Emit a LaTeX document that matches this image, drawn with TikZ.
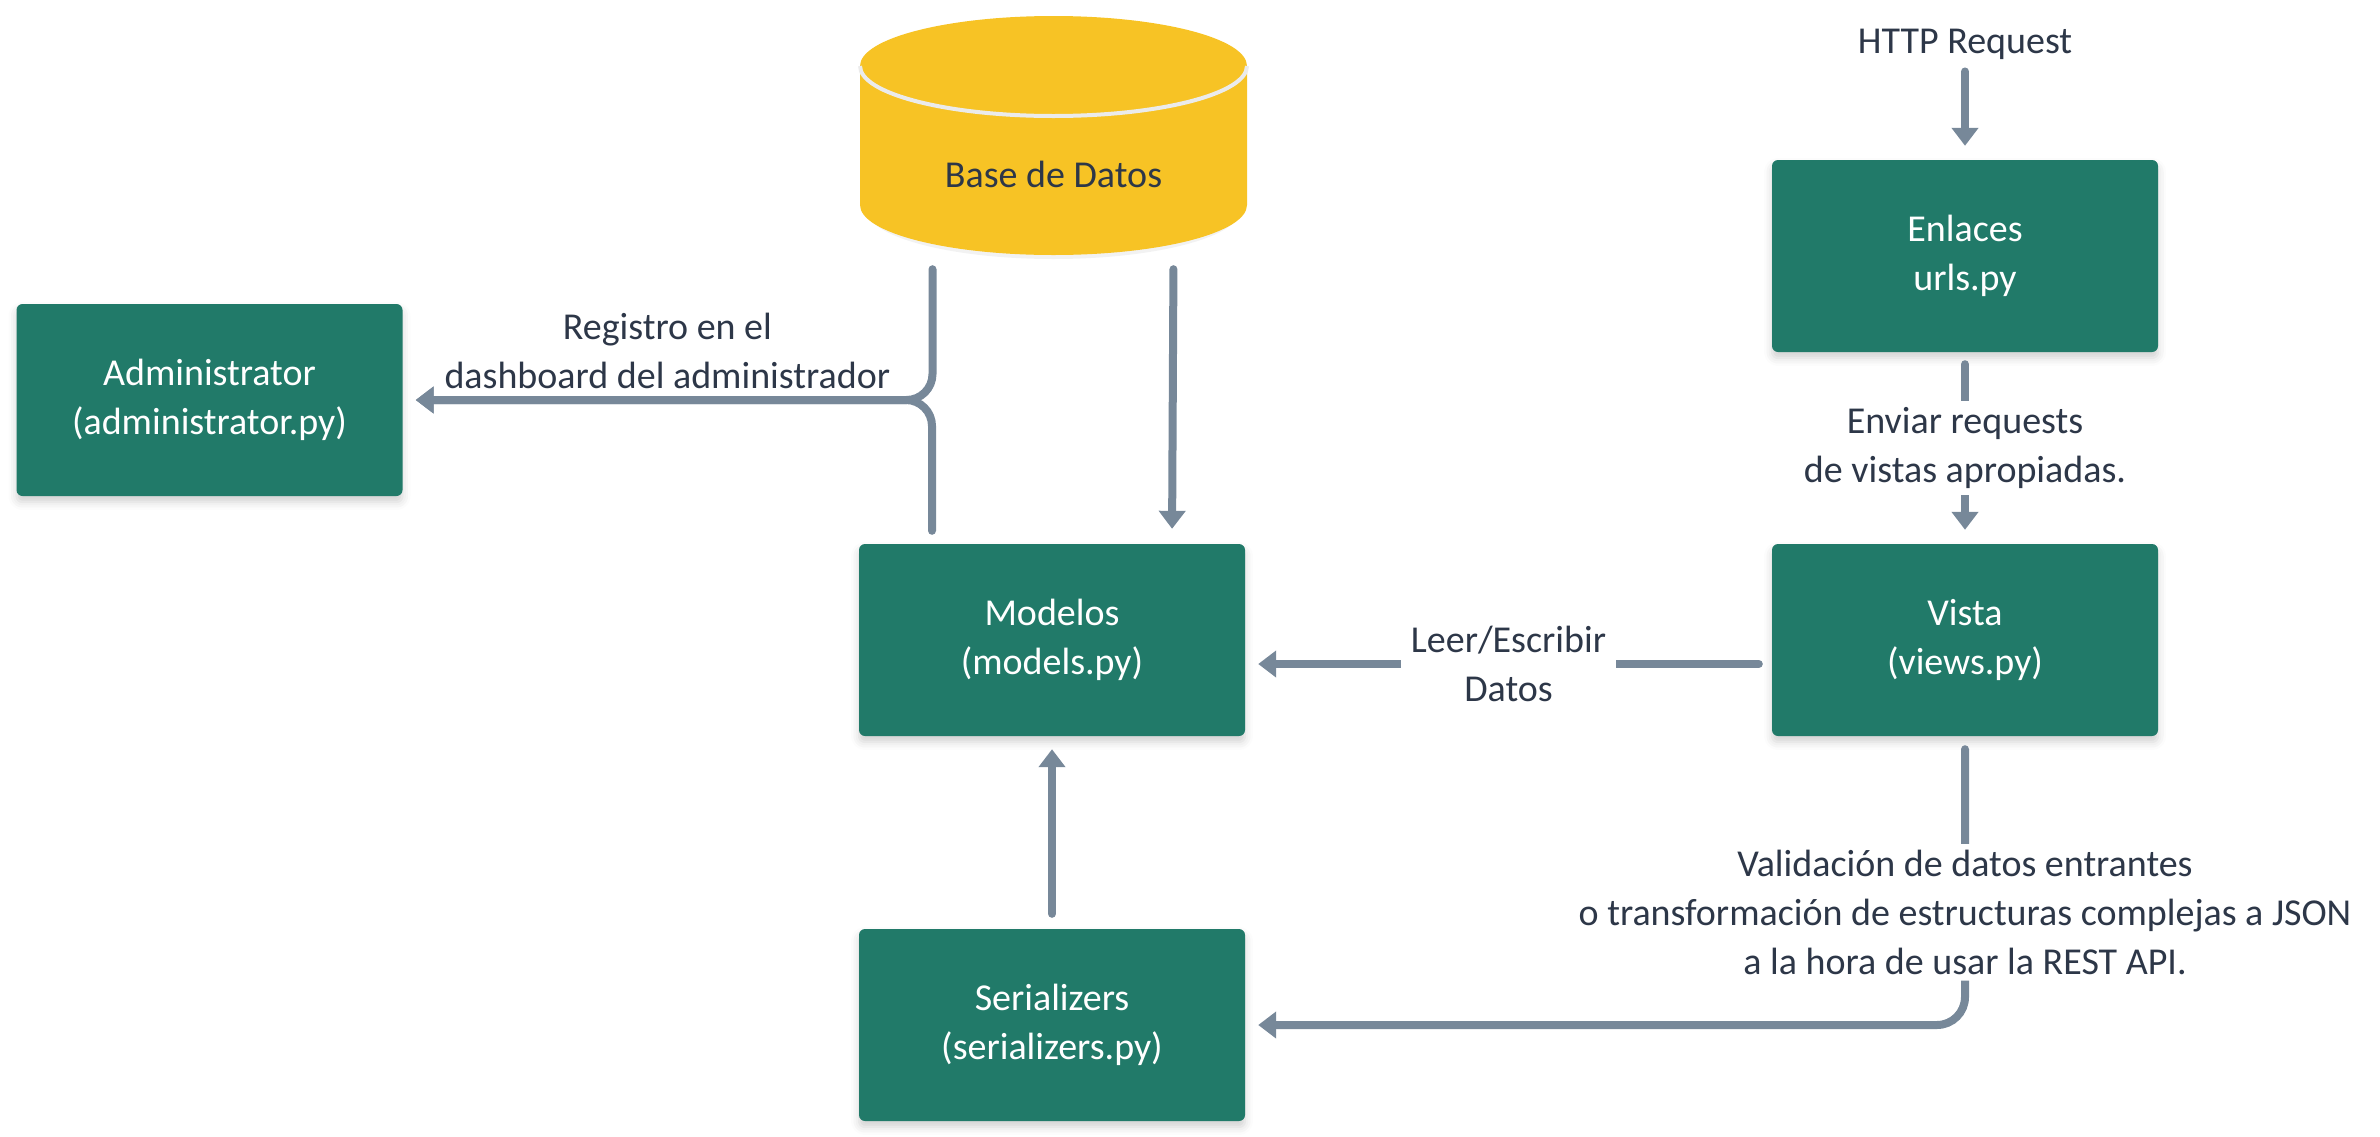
\documentclass[tikz,border=0pt]{standalone}
\usepackage{fontspec}
\setmainfont{Carlito}
\usetikzlibrary{arrows.meta,shadows.blur}
\definecolor{boxgreen}{HTML}{217A69}
\definecolor{dbyellow}{HTML}{F7C325}
\definecolor{linegrey}{HTML}{778899}
\definecolor{ink}{HTML}{2D3748}
\begin{document}
\begin{tikzpicture}[x=1pt, y=-1pt,
    comp/.style={fill=boxgreen, rounded corners=6pt, minimum width=386pt, minimum height=192pt,
      text=white, align=center, font=\fontsize{38}{49}\selectfont,
      blur shadow={shadow xshift=0pt, shadow yshift=-6pt, shadow opacity=18, shadow blur radius=8pt}},
    lbl/.style={text=ink, align=center, font=\fontsize{38}{49}\selectfont, inner sep=6pt},
    arr/.style={draw=linegrey, line width=8pt, line cap=round, -{Triangle[length=18pt,width=26pt]}}]
    \useasboundingbox (0, 0) rectangle (2380, 1136);
    \fill[black, opacity=0.05] (866, 76) -- (866, 209) arc[start angle=180, end angle=360, x radius=187.5pt, y radius=50pt] -- (1241, 76) -- cycle;
    \fill[dbyellow] (860, 66) -- (860, 205) arc[start angle=180, end angle=360, x radius=193.5pt, y radius=50pt] -- (1247, 66) -- cycle;
    \fill[dbyellow] (1053.5, 66) ellipse[x radius=193.5pt, y radius=50pt];
    \draw[white!92!black, line width=4pt] (860, 66) arc[start angle=180, end angle=360, x radius=193.5pt, y radius=50pt];
    \node[minimum width=387pt, minimum height=237pt] (db) at (1053.5, 136.5) {};
    \node[lbl] (dbtext) at (1053.5, 174) {Base de Datos};
    \node[comp] (admin) at (209.5, 400) {Administrator\\(administrator.py)};
    \node[comp] (models) at (1052, 640) {Modelos\\(models.py)};
    \node[comp] (serial) at (1052, 1025) {Serializers\\(serializers.py)};
    \node[comp] (enlaces) at (1965, 256) {Enlaces\\urls.py};
    \node[comp] (vista) at (1965, 640) {Vista\\(views.py)};
    \node[lbl] (http) at (1965, 44) {HTTP Request};
    \draw[arr, shorten <=6pt, shorten >=14pt] (http) -- (enlaces);
    \draw[arr, shorten <=12pt, shorten >=14pt] (enlaces) -- node[lbl, fill=white] {Enviar requests\\de vistas apropiadas.} (vista);
    \draw[arr, shorten <=13pt, shorten >=13pt] ([yshift=-24pt]vista.west) -- node[lbl, fill=white, inner xsep=10pt] {Leer/Escribir\\Datos} ([yshift=-24pt]models.east);
    \draw[arr, shorten <=15pt, shorten >=13pt] (serial) -- (models);
    \draw[arr, shorten <=14pt, shorten >=15pt] ([xshift=120pt]db.south) -- ([xshift=120pt]models.north);
    \draw[arr, rounded corners=26pt, shorten <=14pt, shorten >=13pt] ([xshift=-121pt]db.south) |- (admin.east);
    \draw[arr, rounded corners=26pt, shorten <=13pt, shorten >=13pt] ([xshift=-120pt]models.north) |- node[lbl, pos=0.75, anchor=south, yshift=1pt] {Registro en el\\dashboard del administrador} (admin.east);
    \draw[arr, rounded corners=28pt, shorten <=13pt, shorten >=13pt] (vista.south) |- node[lbl, fill=white, pos=0.305] {Validación de datos entrantes\\o transformación de estructuras complejas a JSON\\a la hora de usar la REST API.} (serial.east);
\end{tikzpicture}
\end{document}
